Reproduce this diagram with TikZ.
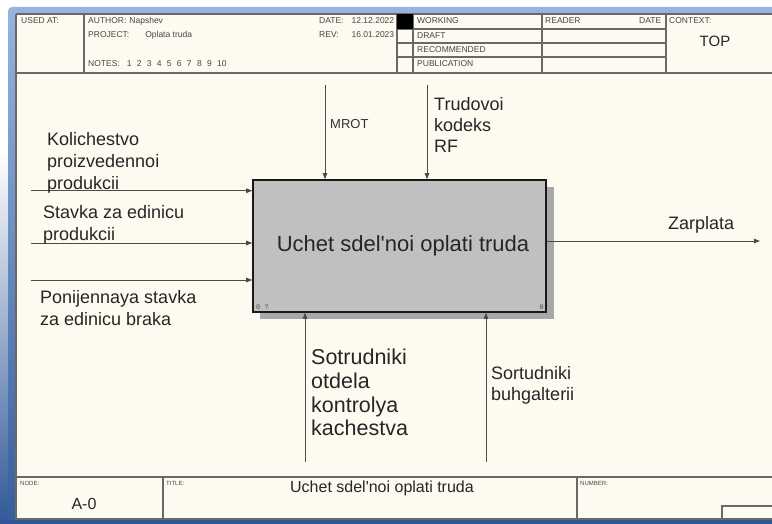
\documentclass[tikz,border=0pt]{standalone}
\usepackage{fontspec}
\setmainfont{Liberation Sans}
\setmonofont{Liberation Mono}
\usetikzlibrary{arrows.meta}
\definecolor{cream}{RGB}{253,250,240}
\definecolor{frameA}{RGB}{150,180,222}
\definecolor{frameB}{RGB}{48,88,152}
\definecolor{boxgray}{RGB}{192,192,192}
\definecolor{shadowgray}{RGB}{168,168,168}
\definecolor{linegray}{RGB}{105,105,105}
\definecolor{txtgray}{RGB}{70,70,70}
\definecolor{conncol}{RGB}{75,75,75}
\tikzset{
  hdr/.style={anchor=west, inner sep=0pt, text=txtgray, font=\fontsize{8.5}{10}\selectfont},
  tiny/.style={anchor=west, inner sep=0pt, text=txtgray, font=\fontsize{6}{7}\selectfont},
  lbl/.style={anchor=north west, inner sep=0pt, align=left, text=black!85, font=\fontsize{18}{22}\selectfont},
  tline/.style={draw=linegray, line width=1.1pt},
  conn/.style={draw=conncol, line width=0.9pt, -{Triangle[length=6pt,width=4.5pt]}},
  mainbox/.style={draw=black!90, line width=1.6pt, fill=boxgray, minimum width=293pt, minimum height=132pt, inner sep=0pt, text=black!85, font=\fontsize{22}{26}\selectfont},
  corner/.style={inner sep=0pt, text=black!70, font=\ttfamily\fontsize{7}{8}\selectfont}
}
\begin{document}
\begin{tikzpicture}[x=1pt,y=-1pt]
\useasboundingbox (0,0) rectangle (772,524);
% window frame
\fill[white] (0,0) rectangle (772,524);
\shade[top color=white, bottom color=frameB] (0,150) rectangle (8,524);
\shade[top color=frameA, bottom color=frameB, rounded corners=4pt] (8,7) rectangle (800,560);
\fill[cream] (16,14) rectangle (772,519);
\fill[frameB] (0,519.5) rectangle (772,524);
\draw[tline] (16,14) -- (772,14);
\draw[tline] (16,14) -- (16,519) -- (772,519);
% ---------- header ----------
\draw[tline] (16,73) -- (772,73);
\foreach \xx in {84,397,413,542,666} \draw[tline] (\xx,14) -- (\xx,73);
\foreach \yy in {29,43,57} \draw[tline] (397,\yy) -- (666,\yy);
\fill[black] (397,14) rectangle (413,29);
\node[hdr] (usedat) at (21,21) {USED AT:};
\node[hdr] (author) at (88,21) {AUTHOR:\hspace{3pt}Napshev};
\node[hdr] (project) at (88,35) {\makebox[80pt][l]{PROJECT:\hspace{16pt}Oplata truda}};
\node[hdr] (notes) at (88,64) {NOTES:\hspace{7pt}1\hspace{5.3pt}2\hspace{5.3pt}3\hspace{5.3pt}4\hspace{5.3pt}5\hspace{5.3pt}6\hspace{5.3pt}7\hspace{5.3pt}8\hspace{5.3pt}9\hspace{5.3pt}10};
\node[hdr] (date) at (319,21) {\makebox[75pt][l]{DATE:\hfill 12.12.2022}};
\node[hdr] (rev) at (319,35) {\makebox[75pt][l]{REV:\hfill 16.01.2023}};
\node[hdr] (working) at (417,21) {WORKING};
\node[hdr] (draft) at (417,35.5) {DRAFT};
\node[hdr] (recom) at (417,49.5) {RECOMMENDED};
\node[hdr] (public) at (417,64) {PUBLICATION};
\node[hdr] (reader) at (545,21) {\makebox[116pt][l]{READER\hfill DATE}};
\node[hdr] (context) at (669,21) {CONTEXT:};
\node[inner sep=0pt, text=black!85, font=\fontsize{15}{17}\selectfont] (top) at (715,41) {TOP};
% ---------- footer ----------
\draw[tline] (16,477) -- (772,477);
\draw[tline] (163,477) -- (163,519);
\draw[tline] (577,477) -- (577,519);
\draw[tline] (722,519) -- (722,506) -- (772,506);
\node[tiny] (nodelbl) at (20,483) {NODE:};
\node[tiny] (titlelbl) at (166,483) {TITLE:};
\node[tiny] (numlbl) at (580,483) {NUMBER:};
\node[inner sep=0pt, text=black!85, font=\fontsize{16}{18}\selectfont] (a0) at (84,504) {A-0};
\node[inner sep=0pt, text=black!85, font=\fontsize{16}{18}\selectfont] (ftitle) at (382,488) {Uchet sdel\textquotesingle noi oplati truda};
% ---------- main box ----------
\fill[shadowgray] (260,187) rectangle (554,319);
\node[mainbox] (box) at (399.5,246) {\raisebox{3pt}{\hspace{7pt}Uchet sdel\textquotesingle noi oplati truda}};
\node[corner, anchor=south west] (cornerL) at (256,309.5) {0 ?};
\node[corner, anchor=south east] (cornerR) at (544,309.5) {0};
% inputs
\coordinate (in1) at (31,190.7);
\coordinate (in2) at (31,243);
\coordinate (in3) at (31,280);
\draw[conn] (in1) -- (in1 -| box.west);
\draw[conn] (in2) -- (in2 -| box.west);
\draw[conn] (in3) -- (in3 -| box.west);
\node[lbl] (l1) at (47,132.5) {Kolichestvo\\proizvedennoi\\produkcii};
\node[lbl] (l2) at (43,205.5) {Stavka za edinicu\\produkcii};
\node[lbl] (l3) at (40,290.5) {Ponijennaya stavka\\za edinicu braka};
% controls
\coordinate (c1) at (325,85);
\coordinate (c2) at (427,85);
\draw[conn] (c1) -- (c1 |- box.north);
\draw[conn] (c2) -- (c2 |- box.north);
\node[anchor=west, inner sep=0pt, text=black!80, font=\fontsize{13}{15}\selectfont] (mrot) at (330,124) {MROT};
\node[lbl, font=\fontsize{18}{21}\selectfont] (trud) at (434,97.5) {Trudovoi\\kodeks\\RF};
% mechanisms
\coordinate (m1) at (305,462);
\coordinate (m2) at (486,462);
\draw[conn] (m1) -- (m1 |- box.south);
\draw[conn] (m2) -- (m2 |- box.south);
\node[lbl, font=\fontsize{21.5}{23.7}\selectfont] (sotr) at (311,349) {Sotrudniki\\otdela\\kontrolya\\kachestva};
\node[lbl, font=\fontsize{18}{21}\selectfont] (sort) at (491,366.5) {Sortudniki\\buhgalterii};
% output
\coordinate (o1) at (760,241);
\draw[conn] (o1 -| box.east) -- (o1);
\node[anchor=west, inner sep=0pt, text=black!85, font=\fontsize{18}{21}\selectfont] (zarp) at (668,225) {Zarplata};
\end{tikzpicture}
\end{document}
